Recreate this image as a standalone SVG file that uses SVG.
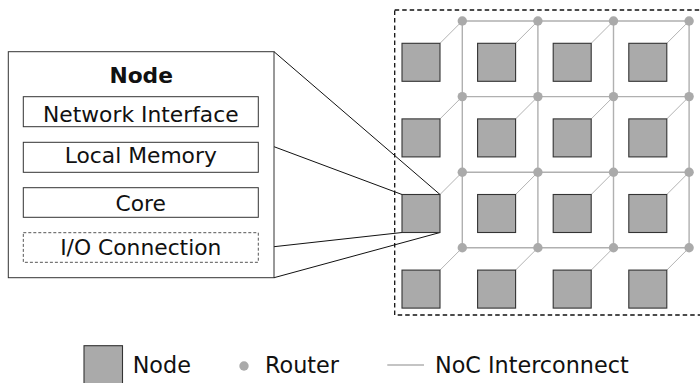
<svg xmlns="http://www.w3.org/2000/svg" width="700" height="383" viewBox="0 0 700 383">
<style>
.node{fill:#aaaaaa;stroke:#333333;stroke-width:1.1}
.router{fill:#aaaaaa;stroke:none}
.link{stroke:#b0b0b0;stroke-width:1.4;fill:none}
.diag{stroke:#b3b3b3;stroke-width:1;fill:none}
.zoom{stroke:#111111;stroke-width:1;fill:none}
.box{fill:#ffffff;stroke:#333333;stroke-width:1}
.t{font-family:"DejaVu Sans",sans-serif;font-size:21.8px;fill:#111111}
.lg{font-size:22.3px}
</style>
<rect width="700" height="383" fill="#ffffff"/>
<rect x="394.7" y="10" width="320" height="305" fill="none" stroke="#111111" stroke-width="1.3" stroke-dasharray="4.5 3"/>
<g id="connectors">
<g id="grid-links">
<path class="link" d="M462.3 21H689.5M462.3 96.6H689.5M462.3 172.2H689.5M462.3 247.8H689.5"/>
<path class="link" d="M462.3 21V247.8M537.9 21V247.8M613.5 21V247.8M689.1 21V247.8"/>
</g>
<g id="node-links">
<path class="diag" d="M440 43.3L462.3 21M515.6 43.3L537.9 21M591.2 43.3L613.5 21M666.8 43.3L689.1 21"/>
<path class="diag" d="M440 118.9L462.3 96.6M515.6 118.9L537.9 96.6M591.2 118.9L613.5 96.6M666.8 118.9L689.1 96.6"/>
<path class="diag" d="M440 194.5L462.3 172.2M515.6 194.5L537.9 172.2M591.2 194.5L613.5 172.2M666.8 194.5L689.1 172.2"/>
<path class="diag" d="M440 270.1L462.3 247.8M515.6 270.1L537.9 247.8M591.2 270.1L613.5 247.8M666.8 270.1L689.1 247.8"/>
</g>
<g id="zoom-lines">
<path class="zoom" d="M274 51.7L440 194.5M274 146.7L402 194.5M274 246.7L402 232.5M274 277.7L440 232.5"/>
</g>
</g>
<g id="routers">
<circle class="router" cx="462.3" cy="21" r="4.7"/><circle class="router" cx="537.9" cy="21" r="4.7"/><circle class="router" cx="613.5" cy="21" r="4.7"/><circle class="router" cx="689.1" cy="21" r="4.7"/>
<circle class="router" cx="462.3" cy="96.6" r="4.7"/><circle class="router" cx="537.9" cy="96.6" r="4.7"/><circle class="router" cx="613.5" cy="96.6" r="4.7"/><circle class="router" cx="689.1" cy="96.6" r="4.7"/>
<circle class="router" cx="462.3" cy="172.2" r="4.7"/><circle class="router" cx="537.9" cy="172.2" r="4.7"/><circle class="router" cx="613.5" cy="172.2" r="4.7"/><circle class="router" cx="689.1" cy="172.2" r="4.7"/>
<circle class="router" cx="462.3" cy="247.8" r="4.7"/><circle class="router" cx="537.9" cy="247.8" r="4.7"/><circle class="router" cx="613.5" cy="247.8" r="4.7"/><circle class="router" cx="689.1" cy="247.8" r="4.7"/>
</g>
<g id="nodes">
<rect id="n11" class="node" x="402" y="43.3" width="38" height="38"/>
<rect id="n12" class="node" x="477.6" y="43.3" width="38" height="38"/>
<rect id="n13" class="node" x="553.2" y="43.3" width="38" height="38"/>
<rect id="n14" class="node" x="628.8" y="43.3" width="38" height="38"/>
<rect id="n21" class="node" x="402" y="118.9" width="38" height="38"/>
<rect id="n22" class="node" x="477.6" y="118.9" width="38" height="38"/>
<rect id="n23" class="node" x="553.2" y="118.9" width="38" height="38"/>
<rect id="n24" class="node" x="628.8" y="118.9" width="38" height="38"/>
<rect id="n31" class="node" x="402" y="194.5" width="38" height="38"/>
<rect id="n32" class="node" x="477.6" y="194.5" width="38" height="38"/>
<rect id="n33" class="node" x="553.2" y="194.5" width="38" height="38"/>
<rect id="n34" class="node" x="628.8" y="194.5" width="38" height="38"/>
<rect id="n41" class="node" x="402" y="270.1" width="38" height="38"/>
<rect id="n42" class="node" x="477.6" y="270.1" width="38" height="38"/>
<rect id="n43" class="node" x="553.2" y="270.1" width="38" height="38"/>
<rect id="n44" class="node" x="628.8" y="270.1" width="38" height="38"/>
</g>
<g id="node-detail">
<rect class="box" x="8.3" y="51.7" width="265.7" height="226"/>
<text class="t" x="141.2" y="82.7" text-anchor="middle" font-weight="bold">Node</text>
<g id="network-interface">
<rect class="box" x="23.3" y="96.7" width="235" height="30"/>
<text class="t" x="140.8" y="121.5" text-anchor="middle">Network Interface</text>
</g>
<g id="local-memory">
<rect class="box" x="23.3" y="142.3" width="235" height="30"/>
<text class="t" x="140.8" y="163.3" text-anchor="middle">Local Memory</text>
</g>
<g id="core">
<rect class="box" x="23.3" y="187.7" width="235" height="29.6"/>
<text class="t" x="140.8" y="210.7" text-anchor="middle">Core</text>
</g>
<g id="io-connection">
<rect x="23.3" y="232.7" width="235" height="29.6" fill="#ffffff" stroke="#555555" stroke-width="1" stroke-dasharray="3 2"/>
<text class="t" x="140.8" y="255" text-anchor="middle">I/O Connection</text>
</g>
</g>
<g id="legend">
<rect class="node" x="84" y="345.7" width="38.5" height="40"/>
<text class="t lg" x="132.7" y="373.3">Node</text>
<circle class="router" cx="244" cy="366" r="4.7"/>
<text class="t lg" x="265" y="373.3">Router</text>
<line class="link" x1="387.3" y1="365" x2="424" y2="365"/>
<text class="t lg" x="435" y="373.3">NoC Interconnect</text>
</g>
</svg>
